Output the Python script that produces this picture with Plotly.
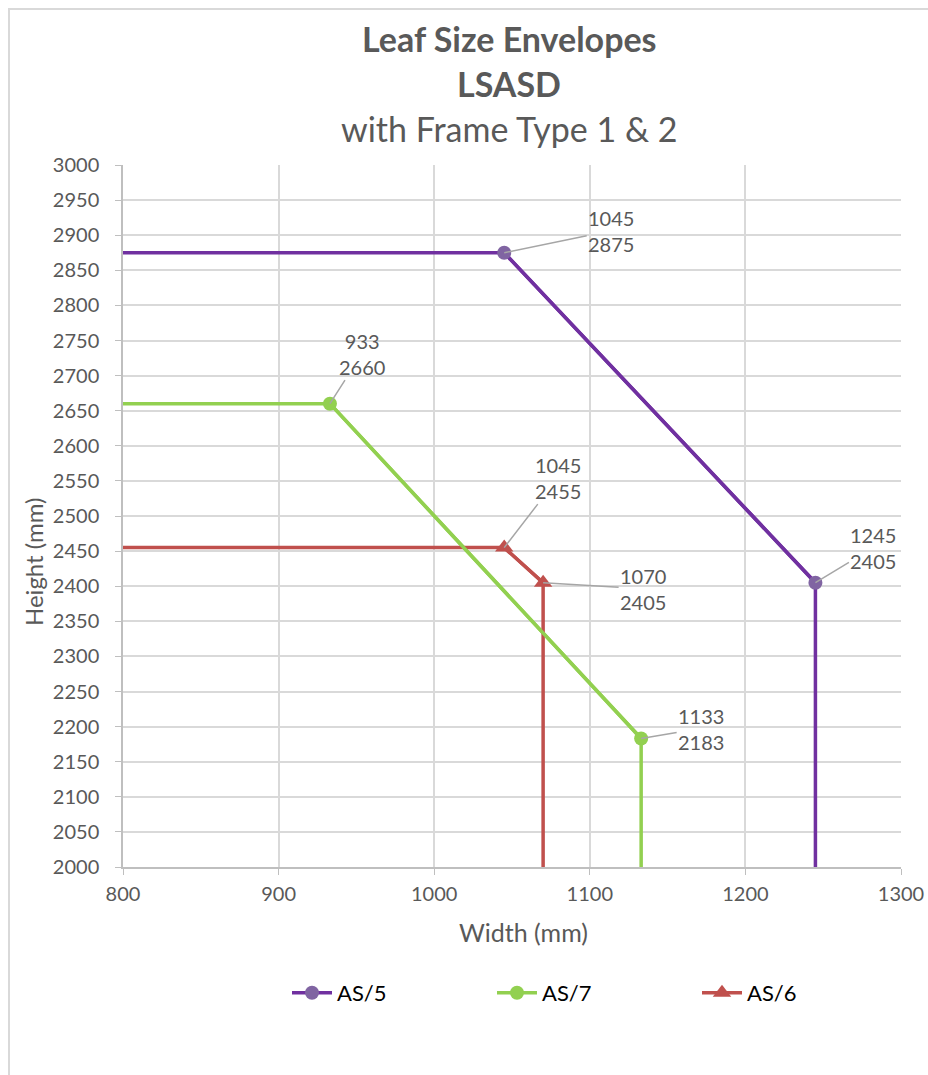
import plotly.graph_objects as go

# ---- data ----
series_names = ["AS/5", "AS/7", "AS/6"]
as5_w = [800, 1045, 1245, 1245]
as5_h = [2875, 2875, 2405, 2000]
as7_w = [800, 933, 1133, 1133]
as7_h = [2660, 2660, 2183, 2000]
as6_w = [800, 1045, 1070, 1070]
as6_h = [2455, 2455, 2405, 2000]
# corner points (marked & labelled) are indices 1 and 2 of each series
x_ticks = [800, 900, 1000, 1100, 1200, 1300]
y_ticks = list(range(2000, 3001, 50))
x_title = "Width (mm)"
y_title = "Height (mm)"

W, H = 928, 1075
L, R, T, B = 123, 27, 165, 208
pw, ph = W - L - R, H - T - B

def px_x(p):
    return (p - L) / pw

def px_y(p):
    return (H - B - p) / ph

styles = [
    dict(line="#7030A0", marker="#8064A2", symbol="circle", size=14),
    dict(line="#92D050", marker="#92D050", symbol="circle", size=14),
    dict(line="#C0504D", marker="#C0504D", symbol="triangle-up", size=16),
]
data = [(as5_w, as5_h), (as7_w, as7_h), (as6_w, as6_h)]

fig = go.Figure()
for name, (xs, ys), st in zip(series_names, data, styles):
    fig.add_trace(go.Scatter(x=xs, y=ys, mode="lines", name=name,
                             showlegend=False, line=dict(color=st["line"], width=3.5),
                             hoverinfo="skip"))
for name, (xs, ys), st in zip(series_names, data, styles):
    fig.add_trace(go.Scatter(x=xs[1:3], y=ys[1:3], mode="lines+markers", name=name,
                             line=dict(color=st["line"], width=3.5),
                             marker=dict(color=st["marker"], symbol=st["symbol"], size=st["size"])))

# label offsets (pixels) for the six corner points
offsets = [
    [(107, -22), (58, -35)],
    [(32, -50), (60, -10)],
    [(54, -70), (100, 6)],
]
annotations = []
for (xs, ys), offs in zip(data, offsets):
    for i, (ax, ay) in zip([1, 2], offs):
        annotations.append(dict(
            x=xs[i], y=ys[i], xref="x", yref="y",
            text=f"{xs[i]}<br>{ys[i]}", showarrow=True, arrowhead=0,
            arrowwidth=1.5, arrowcolor="#A6A6A6", ax=ax, ay=ay,
            font=dict(family="Lato", size=20, color="#595959"),
        ))

title_lines = [("<b>Leaf Size Envelopes</b>", 38, 34), ("<b>LSASD</b>", 83, 34),
               ("with Frame Type 1 &amp; 2", 128, 34)]
for txt, py, fs in title_lines:
    annotations.append(dict(text=txt, xref="paper", yref="paper", x=px_x(509), y=px_y(py),
                            xanchor="center", yanchor="middle", showarrow=False,
                            font=dict(family="Lato", size=fs, color="#595959")))

# axis titles
annotations.append(dict(text=x_title, xref="paper", yref="paper", x=px_x(523), y=px_y(932),
                        xanchor="center", yanchor="middle", showarrow=False,
                        font=dict(family="Lato", size=25, color="#595959")))
annotations.append(dict(text=y_title, xref="paper", yref="paper", x=px_x(33), y=px_y(562),
                        xanchor="center", yanchor="middle", showarrow=False, textangle=-90,
                        font=dict(family="Lato", size=24, color="#595959")))

fig.update_layout(
    width=W, height=H,
    margin=dict(l=L, r=R, t=T, b=B, pad=0, autoexpand=False),
    paper_bgcolor="white", plot_bgcolor="white",
    font=dict(family="Lato", size=20, color="#595959"),
    showlegend=True,
    legend=dict(orientation="h", xref="container", yref="container",
                x=287 / W, y=1 - 993 / H, xanchor="left", yanchor="middle",
                font=dict(family="Lato", size=22, color="#000000"),
                entrywidth=150, entrywidthmode="pixels", itemwidth=40,
                bgcolor="rgba(0,0,0,0)"),
    annotations=annotations,
    shapes=[dict(type="path", xref="paper", yref="paper",
                 path=f"M {px_x(9)},{px_y(1100)} L {px_x(9)},{px_y(9)} L {px_x(960)},{px_y(9)}",
                 line=dict(color="#D9D9D9", width=2))],
)
fig.update_xaxes(range=[800, 1300], tickvals=x_ticks, showgrid=True, gridcolor="#D9D9D9",
                 gridwidth=1.5, showline=True, linecolor="#BFBFBF", linewidth=1.5,
                 ticks="outside", ticklen=6, tickcolor="#BFBFBF", zeroline=False,
                 ticklabelstandoff=2, automargin=False,
                 tickfont=dict(family="Lato", size=20, color="#595959"))
fig.update_yaxes(range=[2000, 3000], tickvals=y_ticks, showgrid=True, gridcolor="#D9D9D9",
                 gridwidth=1.5, showline=True, linecolor="#BFBFBF", linewidth=1.5,
                 ticks="outside", ticklen=6, tickcolor="#BFBFBF", zeroline=False,
                 ticklabelstandoff=12, automargin=False,
                 tickfont=dict(family="Lato", size=20, color="#595959"))

fig.write_html("out.html", config={"displayModeBar": False},
               post_script="document.body.style.margin='0';document.body.style.overflow='hidden';")
